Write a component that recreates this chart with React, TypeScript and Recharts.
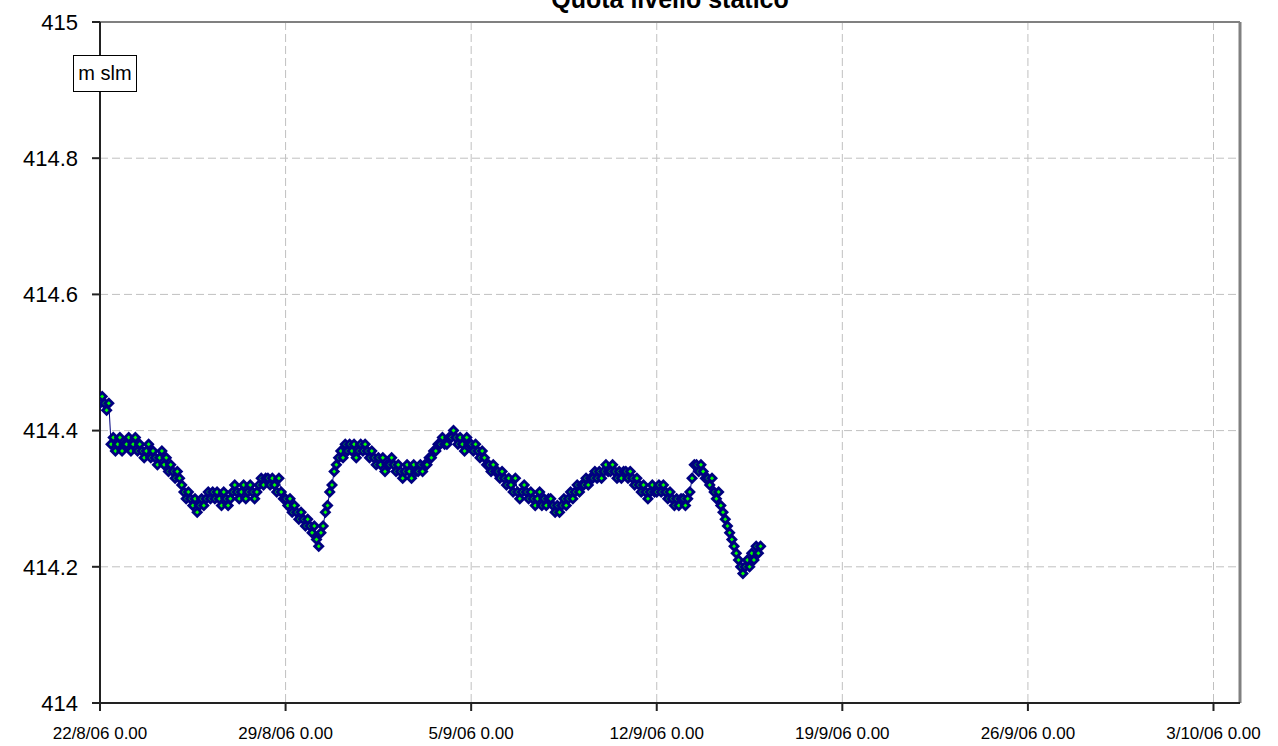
import React from 'react';
import {
  LineChart,
  Line,
  XAxis,
  YAxis,
  CartesianGrid,
  ReferenceLine,
} from 'recharts';

// livello statico, one reading every 2 hours from 22/8/06 0.00
const SAMPLE_HOURS = 2;
const levels = [
  414.44, 414.45, 414.44, 414.43, 414.44, 414.38, 414.39, 414.37, 414.38, 414.39, 414.37, 414.38, // 22/8
  414.38, 414.39, 414.37, 414.38, 414.39, 414.37, 414.38, 414.37, 414.36, 414.37, 414.38, 414.36, // 23/8
  414.37, 414.36, 414.35, 414.36, 414.37, 414.35, 414.36, 414.34, 414.35, 414.34, 414.33, 414.34, // 24/8
  414.33, 414.32, 414.31, 414.30, 414.31, 414.30, 414.29, 414.30, 414.28, 414.29, 414.30, 414.29, // 25/8
  414.30, 414.31, 414.30, 414.31, 414.30, 414.31, 414.30, 414.29, 414.31, 414.30, 414.29, 414.30, // 26/8
  414.31, 414.32, 414.31, 414.30, 414.31, 414.32, 414.30, 414.31, 414.32, 414.31, 414.30, 414.31, // 27/8
  414.32, 414.33, 414.32, 414.33, 414.33, 414.32, 414.33, 414.32, 414.31, 414.33, 414.31, 414.30, // 28/8
  414.30, 414.29, 414.30, 414.28, 414.29, 414.28, 414.27, 414.28, 414.27, 414.26, 414.27, 414.26, // 29/8
  414.25, 414.26, 414.24, 414.23, 414.25, 414.26, 414.28, 414.29, 414.31, 414.32, 414.34, 414.35, // 30/8
  414.36, 414.37, 414.36, 414.38, 414.37, 414.38, 414.37, 414.38, 414.36, 414.37, 414.38, 414.37, // 31/8
  414.38, 414.37, 414.36, 414.37, 414.36, 414.35, 414.36, 414.35, 414.36, 414.34, 414.35, 414.35, // 1/9
  414.36, 414.35, 414.34, 414.35, 414.34, 414.33, 414.34, 414.35, 414.34, 414.33, 414.35, 414.34, // 2/9
  414.34, 414.35, 414.34, 414.35, 414.35, 414.36, 414.36, 414.37, 414.37, 414.38, 414.38, 414.39, // 3/9
  414.38, 414.38, 414.39, 414.39, 414.40, 414.39, 414.38, 414.39, 414.38, 414.37, 414.39, 414.38, // 4/9
  414.38, 414.37, 414.38, 414.37, 414.36, 414.37, 414.36, 414.35, 414.35, 414.34, 414.35, 414.34, // 5/9
  414.34, 414.33, 414.34, 414.33, 414.32, 414.33, 414.32, 414.31, 414.33, 414.31, 414.30, 414.31, // 6/9
  414.32, 414.31, 414.30, 414.31, 414.30, 414.29, 414.30, 414.31, 414.29, 414.30, 414.29, 414.30, // 7/9
  414.30, 414.29, 414.28, 414.29, 414.28, 414.29, 414.30, 414.29, 414.30, 414.31, 414.30, 414.31, // 8/9
  414.32, 414.31, 414.32, 414.32, 414.33, 414.32, 414.33, 414.33, 414.34, 414.33, 414.34, 414.33, // 9/9
  414.34, 414.35, 414.34, 414.34, 414.35, 414.34, 414.33, 414.34, 414.33, 414.34, 414.34, 414.33, // 10/9
  414.34, 414.33, 414.32, 414.33, 414.32, 414.31, 414.32, 414.31, 414.30, 414.31, 414.32, 414.31, // 11/9
  414.31, 414.32, 414.31, 414.32, 414.31, 414.30, 414.31, 414.30, 414.29, 414.30, 414.29, 414.30, // 12/9
  414.30, 414.29, 414.30, 414.31, 414.33, 414.35, 414.35, 414.34, 414.35, 414.34, 414.33, 414.33, // 13/9
  414.32, 414.33, 414.31, 414.30, 414.31, 414.29, 414.28, 414.27, 414.26, 414.25, 414.24, 414.23, // 14/9
  414.22, 414.21, 414.20, 414.19, 414.20, 414.21, 414.20, 414.22, 414.21, 414.23, 414.22, 414.23, // 15/9
];

// x axis in days from 22/8/06
const xTicks = [0, 7, 14, 21, 28, 35, 42];
const xTickLabels = [
  '22/8/06 0.00',
  '29/8/06 0.00',
  '5/9/06 0.00',
  '12/9/06 0.00',
  '19/9/06 0.00',
  '26/9/06 0.00',
  '3/10/06 0.00',
];
const yTicks = [414, 414.2, 414.4, 414.6, 414.8, 415];
const yTickLabels = ['414', '414.2', '414.4', '414.6', '414.8', '415'];

const data = levels.map((v, i) => ({ day: (i * SAMPLE_HOURS) / 24, v }));

const Diamond = (props: any) => {
  const { cx, cy } = props;
  if (cx == null || cy == null) return <g />;
  const r = 6;
  const s = 2;
  return (
    <g>
      <polygon
        points={`${cx},${cy - r} ${cx + r},${cy} ${cx},${cy + r} ${cx - r},${cy}`}
        fill="#000080"
      />
      <polygon
        points={`${cx},${cy - s} ${cx + s},${cy} ${cx},${cy + s} ${cx - s},${cy}`}
        fill="#00ff00"
      />
    </g>
  );
};

export default function App() {
  return (
    <div
      style={{
        position: 'absolute',
        left: 0,
        top: 0,
        width: 1278,
        height: 746,
        overflow: 'hidden',
        fontFamily: 'Arial, "Liberation Sans", sans-serif',
        background: '#fff',
      }}
    >
      <LineChart
        width={1278}
        height={746}
        data={data}
        margin={{ top: 22, right: 38, bottom: 0, left: 0 }}
      >
        <CartesianGrid stroke="#c0c0c0" strokeDasharray="8 4" />
        <XAxis
          type="number"
          dataKey="day"
          domain={[0, 43]}
          ticks={xTicks}
          tickFormatter={(v: number) => xTickLabels[xTicks.indexOf(v)] ?? ''}
          height={43}
          stroke="#222"
          strokeWidth={2}
          tickSize={8}
          tickMargin={16}
          tick={{ fontSize: 17, fill: '#000', fontFamily: 'Arial' }}
          allowDataOverflow
        />
        <YAxis
          type="number"
          domain={[414, 415]}
          ticks={yTicks}
          tickFormatter={(v: number) => yTickLabels[yTicks.indexOf(v)] ?? ''}
          width={100}
          stroke="#222"
          strokeWidth={2}
          tickSize={8}
          tickMargin={14}
          tick={{ fontSize: 22, fill: '#000', fontFamily: 'Arial' }}
          allowDataOverflow
        />
        <ReferenceLine y={415} stroke="#808080" strokeWidth={2} />
        <ReferenceLine x={43} stroke="#808080" strokeWidth={3} />
        <Line
          type="linear"
          dataKey="v"
          stroke="#000080"
          strokeWidth={1}
          dot={(p: any) => <Diamond key={`dot-${p.index}`} {...p} />}
          activeDot={false}
          isAnimationActive={false}
        />
      </LineChart>
      <div
        style={{
          position: 'absolute',
          left: 0,
          width: 1340,
          top: -13,
          textAlign: 'center',
          fontSize: 25,
          lineHeight: '24px',
          fontWeight: 'bold',
        }}
      >
        Quota livello statico
      </div>
      <div
        style={{
          position: 'absolute',
          left: 73,
          top: 55,
          width: 62,
          height: 35,
          border: '1px solid #000',
          background: '#fff',
          fontSize: 20,
          lineHeight: '35px',
          textAlign: 'center',
        }}
      >
        m slm
      </div>
    </div>
  );
}
